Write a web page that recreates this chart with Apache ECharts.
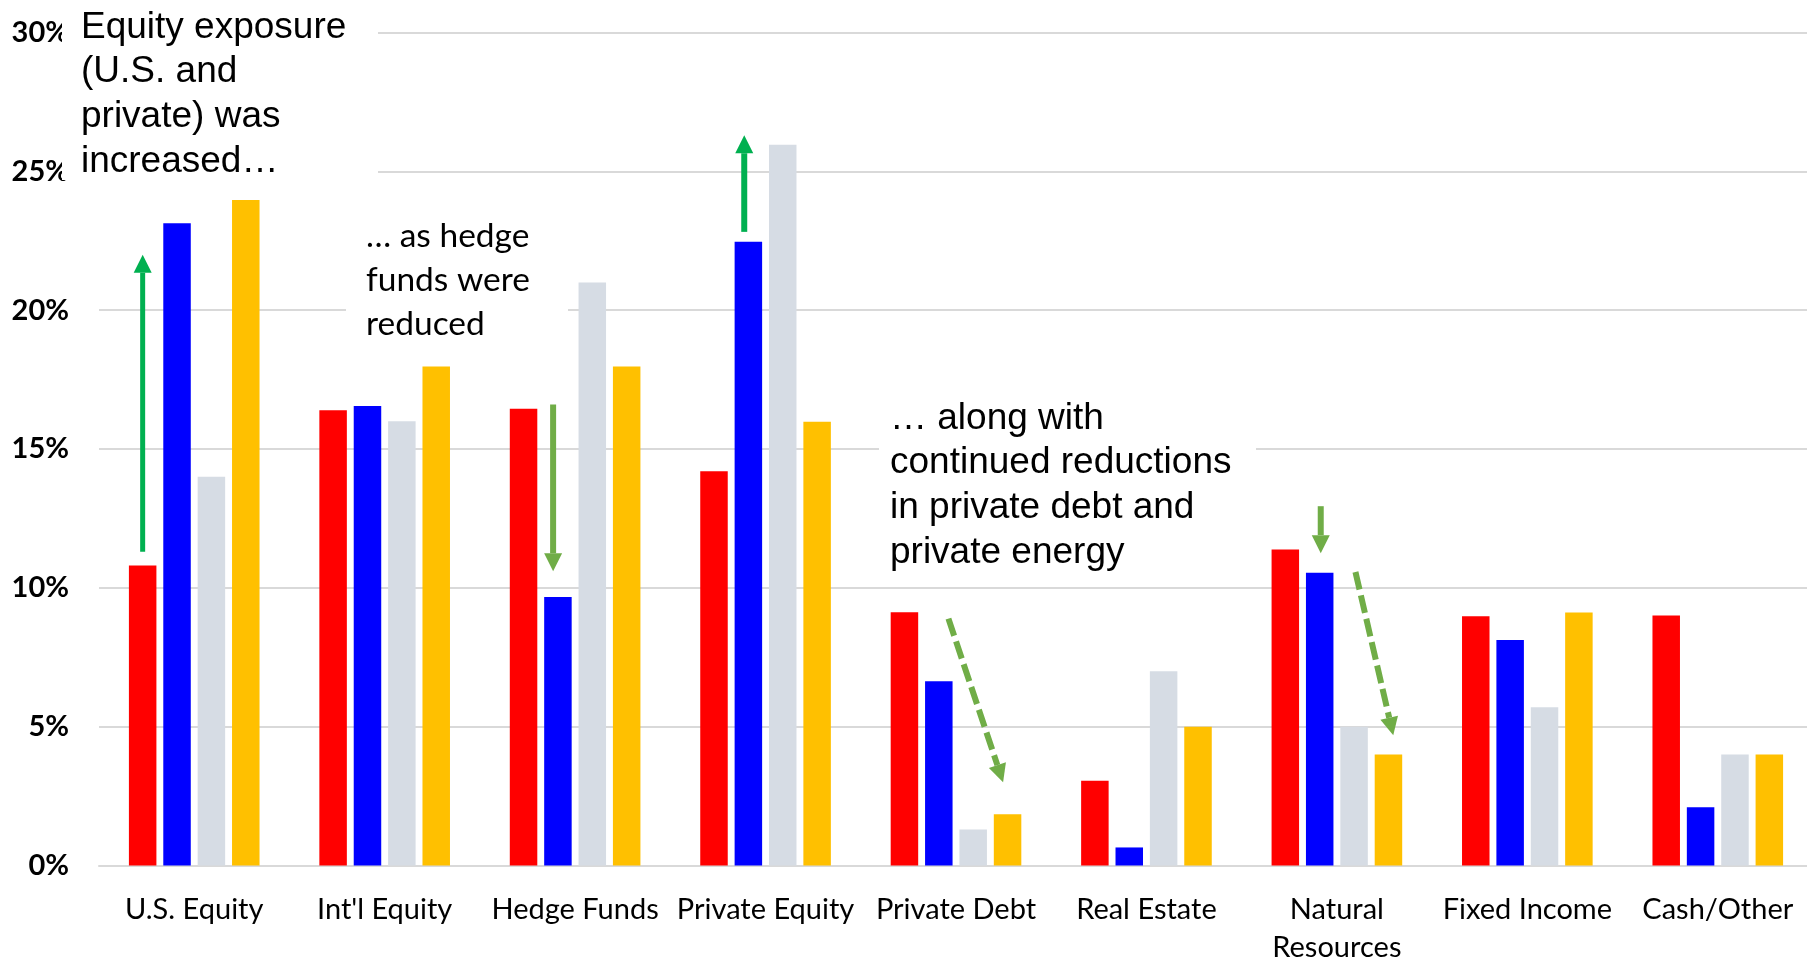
<!DOCTYPE html>
<html>
<head>
<meta charset="utf-8">
<script src="https://cdn.jsdelivr.net/npm/echarts@6/dist/echarts.min.js"></script>
<style>
    html, body { margin: 0; padding: 0; background: #fff; }
    #asignacion { width: 1807px; height: 959px; }
</style>
</head>
<body>
<div id="asignacion"></div>
<script>
/**
 * GRAFICO ASIGNACION DE ACTIVOS POR CLASE
 */

var categorias = ['U.S. Equity', "Int'l Equity", 'Hedge Funds', 'Private Equity', 'Private Debt', 'Real Estate', 'Natural\nResources', 'Fixed Income', 'Cash/Other'];
var serie_roja = [10.8, 16.4, 16.45, 14.2, 9.12, 3.05, 11.38, 8.98, 9.0];
var serie_azul = [23.13, 16.55, 9.67, 22.46, 6.64, 0.65, 10.54, 8.12, 2.1];
var serie_gris = [14.0, 16.0, 21.0, 25.96, 1.3, 7.0, 5.0, 5.7, 4.0];
var serie_amarilla = [23.97, 17.97, 17.97, 15.98, 1.85, 5.0, 4.0, 9.11, 4.0];
var eje_y_min = 0;
var eje_y_max = 30;
var eje_y_paso = 5;

var color_rojo = '#ff0000';
var color_azul = '#0000ff';
var color_gris = '#d6dce4';
var color_amarillo = '#ffc000';
var color_verde = '#00b050';
var color_oliva = '#70ad47';

// flechas: categoria, desplazamiento en barras desde el centro, valor inicial y final
var flechas = [
    {cat: 0, off0: -1.5, off1: -1.5, desde: 11.3, hasta: 22.0, color: color_verde, ancho: 5, punteada: false},
    {cat: 3, off0: -0.62, off1: -0.62, desde: 22.82, hasta: 26.3, color: color_verde, ancho: 6, punteada: false},
    {cat: 2, off0: -0.64, off1: -0.64, desde: 16.6, hasta: 10.6, color: color_oliva, ancho: 6, punteada: false},
    {cat: 6, off0: -0.47, off1: -0.47, desde: 12.94, hasta: 11.25, color: color_oliva, ancho: 6, punteada: false},
    {cat: 4, off0: -0.22, off1: 1.37, desde: 8.89, hasta: 3.0, color: color_oliva, ancho: 6, punteada: true},
    {cat: 6, off0: 0.54, off1: 1.64, desde: 10.57, hasta: 4.69, color: color_oliva, ancho: 6, punteada: true}
];

var ancho_barra = 27.5;
var fuente_eje = 'Lato';

var chart = echarts.init(document.getElementById('asignacion'));

var option = {
    animation: false,
    color: [color_rojo, color_azul, color_gris, color_amarillo],
    grid: {left: 99, top: 32.5, width: 1714, height: 833, outerBoundsMode: 'none', containLabel: false},
    xAxis: {
        type: 'category',
        data: categorias,
        axisLine: {show: true, lineStyle: {color: '#d9d9d9', width: 2}},
        axisTick: {show: false},
        axisLabel: {
            interval: 0,
            margin: 25,
            color: '#000',
            fontFamily: fuente_eje,
            fontSize: 29,
            lineHeight: 38
        }
    },
    yAxis: {
        type: 'value',
        min: eje_y_min,
        max: eje_y_max,
        interval: eje_y_paso,
        axisLine: {show: false},
        axisTick: {show: false},
        splitLine: {lineStyle: {color: '#d9d9d9', width: 2}},
        axisLabel: {
            margin: 30,
            color: '#000',
            fontFamily: fuente_eje,
            fontWeight: 'bold',
            fontSize: 29,
            formatter: '{value}%'
        }
    },
    series: [
        {name: 'Serie 1', type: 'bar', barWidth: ancho_barra, barGap: '25%', data: serie_roja},
        {name: 'Serie 2', type: 'bar', barWidth: ancho_barra, barGap: '25%', data: serie_azul},
        {name: 'Serie 3', type: 'bar', barWidth: ancho_barra, barGap: '25%', data: serie_gris},
        {name: 'Serie 4', type: 'bar', barWidth: ancho_barra, barGap: '25%', data: serie_amarilla}
    ]
};

chart.setOption(option);

/** ANOTACIONES Y FLECHAS */
function punta(p0, p1, largo, medio) {
    var dx = p1[0] - p0[0], dy = p1[1] - p0[1];
    var len = Math.sqrt(dx * dx + dy * dy);
    var ux = dx / len, uy = dy / len;
    var bx = p1[0] - ux * largo, by = p1[1] - uy * largo;
    return {
        base: [bx, by],
        puntos: [[p1[0], p1[1]], [bx - uy * medio, by + ux * medio], [bx + uy * medio, by - ux * medio]]
    };
}

function elementos_flechas() {
    var paso = ancho_barra * 1.25;
    var els = [];
    flechas.forEach(function(f) {
        var a = chart.convertToPixel({gridIndex: 0}, [f.cat, f.desde]);
        var b = chart.convertToPixel({gridIndex: 0}, [f.cat, f.hasta]);
        var p0 = [a[0] + f.off0 * paso, a[1]];
        var p1 = [b[0] + f.off1 * paso, b[1]];
        var h = punta(p0, p1, 18, 9);
        els.push({
            type: 'line', z: 120,
            shape: {x1: p0[0], y1: p0[1], x2: h.base[0], y2: h.base[1]},
            style: {stroke: f.color, lineWidth: f.ancho, lineDash: f.punteada ? [18, 6] : null}
        });
        els.push({
            type: 'polygon', z: 120,
            shape: {points: h.puntos},
            style: {fill: f.color}
        });
    });
    return els;
}

var cajas = [
    {type: 'rect', z: 100, shape: {x: 62, y: 0, width: 316, height: 180}, style: {fill: '#fff'}},
    {type: 'rect', z: 100, shape: {x: 346, y: 200, width: 222, height: 140}, style: {fill: '#fff'}},
    {type: 'rect', z: 100, shape: {x: 879, y: 390, width: 377, height: 180}, style: {fill: '#fff'}},
    {
        type: 'text', z: 110, x: 81, y: 5,
        style: {
            text: 'Equity exposure\n(U.S. and\nprivate) was\nincreased\u2026',
            font: '37px "Liberation Sans"', fill: '#000', lineHeight: 44.8,
            verticalAlign: 'top'
        }
    },
    {
        type: 'text', z: 110, x: 366, y: 214,
        style: {
            text: '\u2026 as hedge\nfunds were\nreduced',
            font: '33.5px Lato', fill: '#000', lineHeight: 44,
            verticalAlign: 'top'
        }
    },
    {
        type: 'text', z: 110, x: 890, y: 396,
        style: {
            text: '\u2026 along with\ncontinued reductions\nin private debt and\nprivate energy',
            font: '37px "Liberation Sans"', fill: '#000', lineHeight: 44.8,
            verticalAlign: 'top'
        }
    }
];

chart.setOption({graphic: {elements: cajas.concat(elementos_flechas())}});
</script>
</body>
</html>
